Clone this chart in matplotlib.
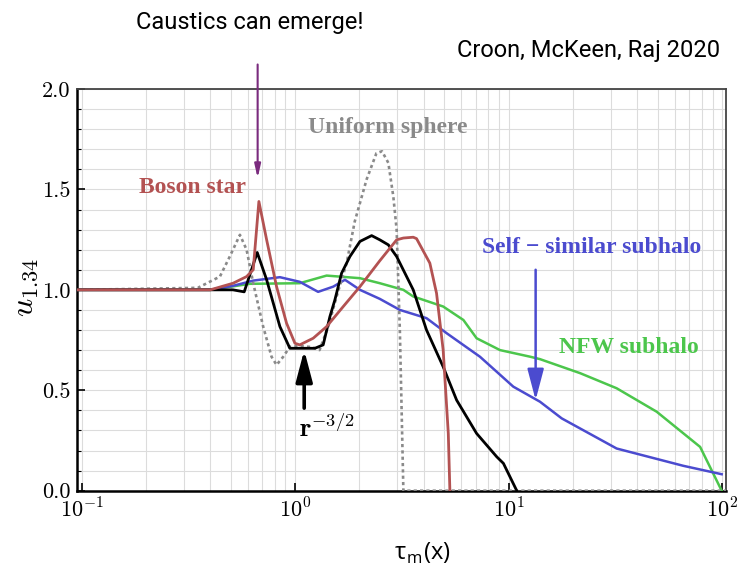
import matplotlib
matplotlib.use("Agg")
import matplotlib.pyplot as plt
import numpy as np
from matplotlib.ticker import LogLocator, MultipleLocator, NullFormatter

plt.rcParams['mathtext.fontset'] = 'cm'

# curves (x = tau, y = u_1.34)
black_x = [0.0954, 0.3, 0.511, 0.577, 0.664, 0.735, 0.848, 0.944, 1.237, 1.352, 1.454, 1.534,
           1.649, 1.804, 2.01, 2.28, 2.49, 2.73, 2.985, 3.57, 4.12, 4.93, 5.70, 7.07, 8.78, 9.44, 10.9]
black_y = [1.0, 1.0, 1.0, 0.99, 1.186, 1.05, 0.817, 0.709, 0.709, 0.726, 0.867, 0.95,
           1.083, 1.166, 1.241, 1.27, 1.249, 1.224, 1.166, 1.0, 0.80, 0.617, 0.451, 0.285, 0.169, 0.136, 0.0]

boson_x = [0.0954, 0.4, 0.512, 0.592, 0.636, 0.676, 0.735, 0.818, 0.911, 0.997, 1.05, 1.214, 1.403,
           1.679, 2.01, 2.49, 2.985, 3.21, 3.57, 3.70, 4.27, 4.59, 4.93, 5.21, 5.30]
boson_y = [1.0, 1.0, 1.033, 1.066, 1.10, 1.44, 1.249, 1.016, 0.834, 0.734, 0.726, 0.759, 0.817,
           0.917, 1.016, 1.145, 1.249, 1.258, 1.262, 1.255, 1.133, 0.983, 0.70, 0.285, 0.0]

sphere_x = [0.0954, 0.35, 0.444, 0.494, 0.551, 0.592, 0.636, 0.708, 0.775, 0.818, 0.879, 0.944, 1.05,
            1.20, 1.30, 1.428, 1.563, 1.741, 1.9, 2.16, 2.40, 2.55, 2.73, 2.88, 2.985, 3.09, 3.15, 3.21, 104]
sphere_y = [1.0, 1.01, 1.066, 1.166, 1.274, 1.2, 1.033, 0.817, 0.667, 0.626, 0.667, 0.717, 0.72,
            0.715, 0.70, 0.817, 0.967, 1.133, 1.34, 1.55, 1.68, 1.69, 1.632, 1.465, 1.30, 0.80, 0.40, 0.0, 0.0]

selfsim_x = [0.0954, 0.4, 0.512, 0.636, 0.848, 1.05, 1.28, 1.507, 1.71, 2.01, 2.49, 3.09, 4.12, 5.12,
             7.33, 10.5, 14.0, 17.7, 32.0, 65.6, 99.3]
selfsim_y = [1.0, 1.0, 1.02, 1.046, 1.063, 1.04, 0.99, 1.016, 1.05, 1.0, 0.955, 0.90, 0.859, 0.784,
             0.667, 0.518, 0.443, 0.36, 0.21, 0.124, 0.082]

nfw_x = [0.0954, 0.4, 0.613, 1.05, 1.403, 2.01, 2.49, 3.21, 3.57, 4.93, 6.13, 7.07, 9.1, 12.6, 14.0,
         21.6, 32.0, 49.3, 78.7, 99.3]
nfw_y = [1.0, 1.0, 1.03, 1.033, 1.071, 1.058, 1.033, 1.0, 0.967, 0.917, 0.85, 0.759, 0.70, 0.667, 0.655,
         0.585, 0.51, 0.393, 0.218, 0.0]

y_ticks = [0.0, 0.5, 1.0, 1.5, 2.0]
x_ticks = [0.1, 1, 10, 100]
x_tick_labels = [r'$10^{-1}$', r'$10^{0}$', r'$10^{1}$', r'$10^{2}$']

red = '#b35252'
gray = '#8a8a8a'
blue = '#4b4bcf'
green = '#4cc64c'
purple = '#7a2b7e'

fig = plt.figure(figsize=(7.38, 5.76), dpi=100)
ax = fig.add_axes([0.1047, 0.1481, 0.879, 0.6974])

ax.plot(nfw_x, nfw_y, color=green, lw=1.8, zorder=3)
ax.plot(selfsim_x, selfsim_y, color=blue, lw=1.8, zorder=3)
ax.plot(sphere_x, sphere_y, color=gray, lw=1.9, ls=(0, (1.2, 1.2)), zorder=4)
ax.plot(black_x, black_y, color='black', lw=2.0, zorder=5)
ax.plot(boson_x, boson_y, color=red, lw=2.0, zorder=6)

ax.set_xscale('log')
ax.set_xlim(0.0954, 104)
ax.set_ylim(0, 2)
ax.set_xticks(x_ticks)
ax.set_xticklabels(x_tick_labels)
ax.xaxis.set_minor_locator(LogLocator(base=10, subs=np.arange(2, 10), numticks=20))
ax.xaxis.set_minor_formatter(NullFormatter())
ax.set_yticks(y_ticks)
ax.set_yticklabels(['%.1f' % v for v in y_ticks])
ax.yaxis.set_minor_locator(MultipleLocator(0.1))

ax.grid(True, which='both', color='#dcdcdc', lw=0.8, zorder=0)
ax.set_axisbelow(True)
ax.tick_params(which='major', direction='in', length=6, width=1.2, labelsize=16, pad=5)
ax.tick_params(which='minor', direction='in', length=3, width=0.8)
ax.tick_params(axis='x', which='minor', length=0)
for lab in ax.get_yticklabels():
    lab.set_fontfamily('cmr10')

for s in ['left', 'bottom']:
    ax.spines[s].set_linewidth(1.8)
    ax.spines[s].set_color('black')
for s in ['top', 'right']:
    ax.spines[s].set_linewidth(1.3)
    ax.spines[s].set_color('#444444')

# curve labels
lab_kw = dict(fontsize=17, fontweight='bold', family='Liberation Serif', ha='center', va='center')
ax.text(0.332, 1.509, 'Boson star', color=red, **lab_kw)
ax.text(2.72, 1.808, 'Uniform sphere', color=gray, **lab_kw)
ax.text(24.5, 1.209, 'Self \u2212 similar subhalo', color=blue, **lab_kw)
ax.text(36.5, 0.711, 'NFW subhalo', color=green, **lab_kw)
ax.text(1.045, 0.267, r'$\mathbf{r}^{\mathbf{-3/2}}$', color='black', fontsize=19,
        ha='left', va='baseline')

# arrows
ax.annotate('', xy=(0.667, 1.556), xytext=(0.667, 2.122), annotation_clip=False,
            arrowprops=dict(arrowstyle='-|>,head_length=0.8,head_width=0.18', color=purple, lw=1.5,
                            shrinkA=0, shrinkB=0))
ax.annotate('', xy=(1.102, 0.70), xytext=(1.102, 0.411),
            arrowprops=dict(arrowstyle='-|>,head_length=1.9,head_width=0.5', color='black', lw=2.6,
                            shrinkA=0, shrinkB=0), zorder=7)
ax.annotate('', xy=(13.36, 0.451), xytext=(13.36, 1.10),
            arrowprops=dict(arrowstyle='-|>,head_length=1.9,head_width=0.5', color=blue, lw=1.8,
                            shrinkA=0, shrinkB=0), zorder=7)

# axis titles
fig.text(25 / 738, 1 - 287 / 576, r'$u_{1.34}$', fontsize=23, rotation=90, ha='center', va='center')
fig.text(422 / 738, 1 - 553 / 576, 'τ$_\\mathregular{m}$(x)', fontsize=17,
         family=['Open Sans', 'DejaVu Sans'], ha='center', va='center')

# header notes
fig.text(250 / 738, 1 - 22 / 576, 'Caustics can emerge!', fontsize=17,
         family='Roboto', fontstretch='condensed', ha='center', va='center')
fig.text(720 / 738, 1 - 50 / 576, 'Croon, McKeen, Raj 2020', fontsize=17,
         family='Roboto', fontstretch='condensed', ha='right', va='center')

fig.savefig('out.png', dpi=100)
